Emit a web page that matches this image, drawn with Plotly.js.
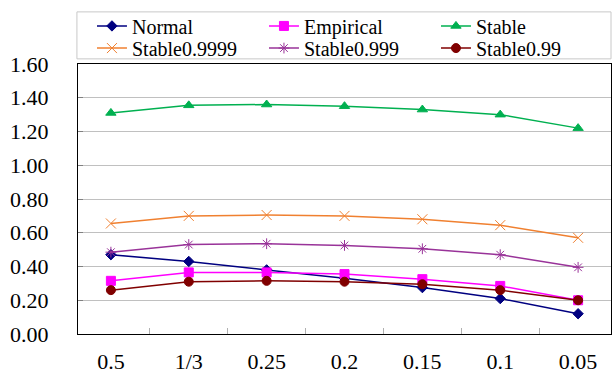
<!DOCTYPE html>
<html><head><meta charset="utf-8">
<script src="https://cdn.plot.ly/plotly-3.0.1.min.js"></script>
<style>html,body{margin:0;padding:0;background:#fff}#c{width:614px;height:388px}</style>
</head><body><div id="c"></div>
<script>
const categories = ['0.5','1/3','0.25','0.2','0.15','0.1','0.05'];
const normal = [0.47, 0.43, 0.38, 0.33, 0.275, 0.21, 0.12];
const empirical = [0.315, 0.365, 0.365, 0.355, 0.325, 0.285, 0.20];
const stable = [1.31, 1.355, 1.36, 1.35, 1.33, 1.30, 1.22];
const stable9999 = [0.655, 0.70, 0.705, 0.70, 0.68, 0.645, 0.57];
const stable999 = [0.485, 0.53, 0.535, 0.525, 0.505, 0.47, 0.395];
const stable99 = [0.26, 0.31, 0.315, 0.31, 0.295, 0.26, 0.20];
const yTicks = [0, 0.2, 0.4, 0.6, 0.8, 1.0, 1.2, 1.4, 1.6];

const FONT = 'Liberation Serif';
function tr(name, y, color, symbol, size, leg) {
  return {x: categories, y: y, name: name, type: 'scatter', mode: 'lines+markers', legend: leg,
    line: {color: color, width: 1.5},
    marker: {symbol: symbol, size: size, color: color, line: {color: color, width: 1}}};
}
const data = [
  tr('Normal', normal, '#000080', 'diamond', 8, 'legend'),
  tr('Empirical', empirical, '#FF00FF', 'square', 9, 'legend'),
  tr('Stable', stable, '#00B050', 'triangle-up', 9, 'legend'),
  tr('Stable0.9999', stable9999, '#F08030', 'x-thin-open', 10, 'legend2'),
  tr('Stable0.999', stable999, '#993399', 'asterisk-open', 9, 'legend2'),
  tr('Stable0.99', stable99, '#800000', 'circle', 9, 'legend2')
];
function leg(y) {
  return {orientation: 'h', x: 0.0262, xanchor: 'left', y: y, yanchor: 'middle',
    font: {size: 20, family: FONT, color: '#000'}, entrywidth: 127, entrywidthmode: 'pixels',
    bgcolor: 'rgba(0,0,0,0)', borderwidth: 0, traceorder: 'normal'};
}
const layout = {
  width: 614, height: 388,
  margin: {l: 78, r: 3, t: 64, b: 54},
  paper_bgcolor: '#fff', plot_bgcolor: '#fff',
  font: {family: FONT, color: '#000', size: 22},
  showlegend: true,
  legend: leg(1.141),
  legend2: leg(1.059),
  xaxis: {type: 'category', showgrid: false, showline: true, mirror: true, linecolor: '#000', linewidth: 1,
    ticks: 'inside', tickson: 'boundaries', ticklen: 6, tickcolor: '#b0b0b0',
    tickfont: {size: 22, family: FONT}, ticklabelstandoff: 8, zeroline: false, fixedrange: true},
  yaxis: {range: [0, 1.6], tickvals: yTicks, ticktext: yTicks.map(v => v.toFixed(2)),
    showgrid: true, gridcolor: '#c0c0c0', gridwidth: 1, showline: true, mirror: true,
    linecolor: '#000', linewidth: 1, ticks: 'inside', ticklen: 5, tickcolor: '#808080',
    tickfont: {size: 22, family: FONT}, ticklabelstandoff: 24, zeroline: false, fixedrange: true},
  shapes: [{type: 'rect', xref: 'paper', yref: 'paper', x0: -0.002, x1: 1.0, y0: 1.019, y1: 1.193,
    line: {color: '#c8c8c8', width: 1}, fillcolor: 'rgba(0,0,0,0)'}]
};
Plotly.newPlot('c', data, layout, {displayModeBar: false, staticPlot: true});
</script></body></html>
